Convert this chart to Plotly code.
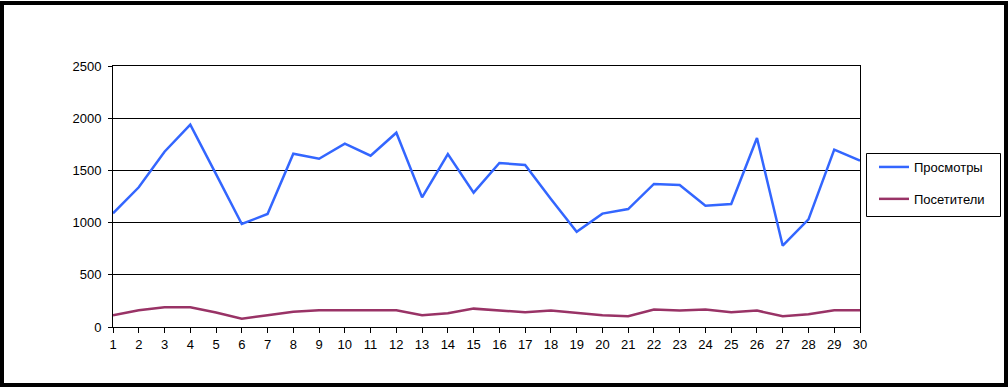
import plotly.graph_objects as go

days = list(range(1, 31))
views = [1089, 1338, 1679, 1938, 1465, 987, 1082, 1660, 1612, 1756,
         1641, 1861, 1242, 1657, 1287, 1571, 1552, 1226, 913, 1086,
         1130, 1370, 1360, 1162, 1178, 1810, 779, 1031, 1699, 1593]
visitors = [112, 160, 189, 189, 138, 80, 112, 147, 160, 160,
            167, 160, 112, 131, 176, 160, 141, 157, 131, 112,
            103, 167, 157, 167, 141, 157, 103, 122, 160, 160]
y_ticks = [0, 500, 1000, 1500, 2000, 2500]

W, H = 1008, 387
L, R, T, B = 113, 148, 66, 60
pw, ph = W - L - R, H - T - B

font = dict(family="Liberation Sans, Arial, sans-serif", size=13, color="black")

fig = go.Figure()
fig.add_trace(go.Scatter(x=days, y=views, mode="lines", name="Просмотры",
                         line=dict(color="#3366FF", width=2.5), legendgroup="a"))
fig.add_trace(go.Scatter(x=days, y=visitors, mode="lines", name="Посетители",
                         line=dict(color="#993366", width=2.5), legendgroup="b"))

def px_x(x):
    return (x - L) / pw

def px_y(y):
    return (H - B - y) / ph

fig.update_layout(
    width=W, height=H,
    margin=dict(l=L, r=R, t=T, b=B),
    paper_bgcolor="white", plot_bgcolor="white",
    font=font,
    showlegend=True,
    legend=dict(x=px_x(874), y=px_y(152), xanchor="left", yanchor="top",
                borderwidth=0, bgcolor="rgba(0,0,0,0)",
                font=font, tracegroupgap=12, traceorder="grouped"),
    xaxis=dict(range=[1, 30], tickvals=days, ticktext=[str(d) for d in days],
               showgrid=False, zeroline=False, showline=True, linecolor="black",
               linewidth=1, mirror=True, ticks="outside", ticklen=5,
               tickcolor="black", tickfont=font),
    yaxis=dict(range=[0, 2500], tickvals=y_ticks, showgrid=True, gridcolor="black",
               gridwidth=1, zeroline=False, showline=True, linecolor="black",
               linewidth=1, mirror=True, ticks="outside", ticklen=4,
               tickcolor="black", tickfont=font, ticklabelstandoff=4),
    shapes=[
        dict(type="rect", xref="paper", yref="paper",
             x0=px_x(2), x1=px_x(1006), y0=px_y(385), y1=px_y(3),
             line=dict(color="black", width=4), fillcolor="rgba(0,0,0,0)"),
        dict(type="rect", xref="paper", yref="paper",
             x0=px_x(866.5), x1=px_x(1000.5), y0=px_y(216.5), y1=px_y(153.5),
             line=dict(color="black", width=1), fillcolor="rgba(0,0,0,0)"),
    ],
)

fig.write_html("out.html", config={"displayModeBar": False})

with open("out.html", "r", encoding="utf-8") as f:
    html = f.read()
html = html.replace("<head>", "<head><style>html,body{margin:0;padding:0;overflow:hidden;}</style>", 1)
with open("out.html", "w", encoding="utf-8") as f:
    f.write(html)
